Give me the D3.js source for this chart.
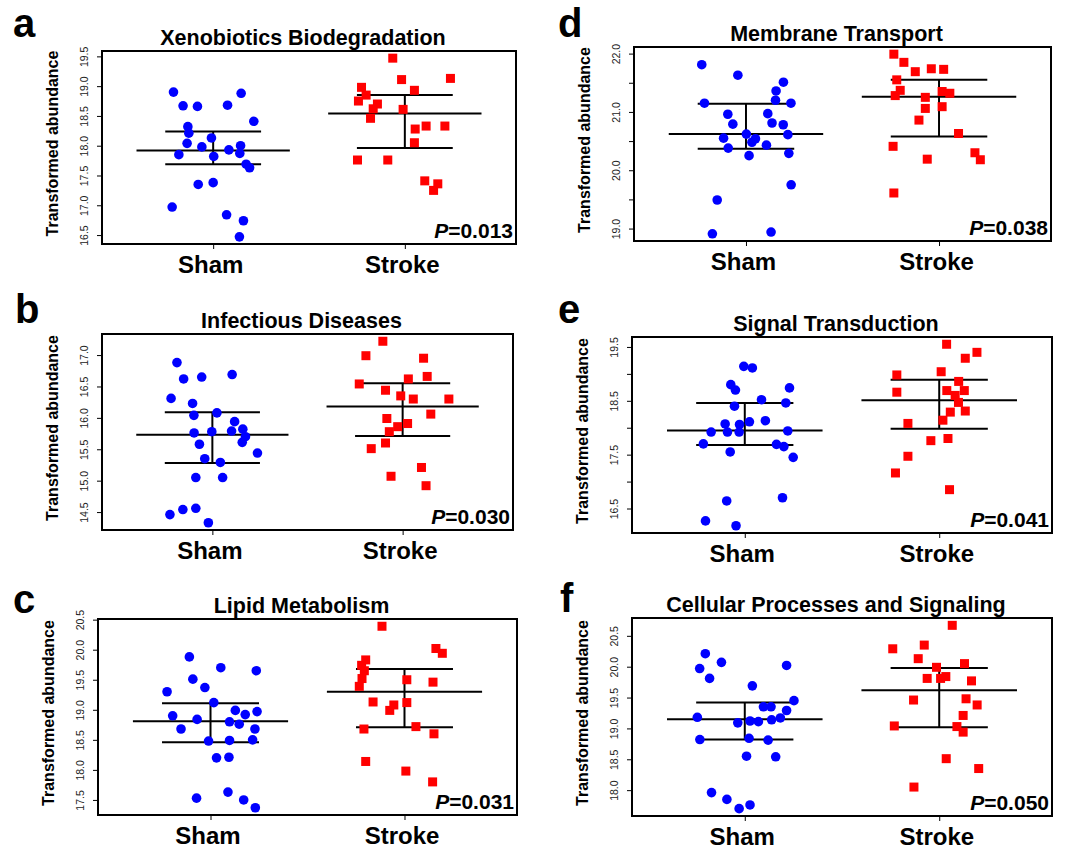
<!DOCTYPE html>
<html>
<head>
<meta charset="utf-8">
<script src="https://cdn.jsdelivr.net/npm/d3@7"></script>
<style>
  body { margin: 0; background: white; }
  svg { display: block; font-family: "Liberation Sans", Arial, sans-serif; }
  .box { fill: none; stroke: black; stroke-width: 2px; }
  .stat { stroke: black; stroke-width: 2px; fill: none; }
  .title { font-size: 21.5px; font-weight: bold; text-anchor: middle; }
  .letter { font-size: 40px; font-weight: bold; }
  .ylab { font-size: 16px; font-weight: bold; text-anchor: middle; }
  .pval { font-size: 21px; font-weight: bold; text-anchor: end; }
  .y.axis text { font-size: 10.5px; fill: #222; }
  .axis path.domain { display: none; }
  .axis line { stroke: black; stroke-width: 1px; }
  .x.axis text { font-size: 24px; font-weight: bold; fill: black; }
</style>
</head>
<body>
<svg id="svg" width="1077" height="850"></svg>
<script>
var categories = ["Sham", "Stroke"];

// a - Xenobiotics Biodegradation
var aShamY = [18.90,18.67,18.66,18.68,18.88,18.32,18.21,18.41,18.13,18.04,17.98,18.00,17.93,17.85,17.82,17.87,17.69,17.63,17.35,17.38,16.97,16.84,16.74,16.47];
var aShamJit = [-0.207,-0.157,-0.082,0.075,0.146,-0.132,-0.127,0.212,-0.009,-0.136,-0.059,0.143,0.082,-0.179,0.003,0.139,0.172,0.19,-0.078,0,-0.214,0.07,0.158,0.137];
var aStrokeY = [19.47,19.13,19.11,18.98,18.93,18.85,18.75,18.70,18.62,18.61,18.46,18.28,18.33,18.33,18.05,17.76,17.76,17.41,17.36,17.25];
var aStrokeJit = [-0.063,0.238,-0.017,-0.226,0.05,-0.202,-0.242,-0.143,-0.165,-0.009,-0.179,0.054,0.111,0.209,0.05,-0.247,-0.089,0.104,0.172,0.15];
var aSummary = [[17.69,17.92,18.24],[17.96,18.54,18.85]];
var aTicks = [16.5,17.0,17.5,18.0,18.5,19.0,19.5];
var aLabels = [16.5,17.0,17.5,18.0,18.5,19.0,19.5];

// b - Infectious Diseases
var bShamY = [16.88,16.62,16.65,16.69,16.31,16.23,16.04,16.08,15.94,15.76,15.78,15.79,15.82,15.70,15.61,15.58,15.44,15.35,15.29,15.05,15.05,14.46,14.54,14.56,14.33];
var bShamJit = [-0.186,-0.151,-0.056,0.104,-0.217,-0.104,-0.097,0.024,0.117,-0.096,-0.003,0.101,0.16,0.174,0.157,-0.068,0.237,-0.04,0.042,-0.087,0.054,-0.223,-0.155,-0.087,-0.021];
var bStrokeY = [17.22,16.99,16.95,16.62,16.66,16.54,16.44,16.35,16.30,16.30,16.06,15.99,15.91,15.86,15.78,15.60,15.51,15.21,15.07,14.92];
var bStrokeJit = [-0.104,-0.193,0.11,0.03,0.129,-0.228,-0.09,-0.01,0.056,0.243,0.148,-0.083,0.026,-0.026,-0.07,-0.09,-0.165,0.099,-0.061,0.123];
var bSummary = [[15.28,15.73,16.09],[15.71,16.18,16.55]];
var bTicks = [14.5,15.0,15.5,16.0,16.5,17.0];
var bLabels = [14.5,15.0,15.5,16.0,16.5,17.0];

// c - Lipid Metabolism
var cShamY = [19.88,19.70,19.65,19.51,19.37,19.30,19.12,18.99,18.97,18.92,18.90,18.84,18.80,18.76,18.68,18.68,18.48,18.49,18.50,18.20,18.21,17.53,17.63,17.50,17.37];
var cShamJit = [-0.109,0.053,0.236,-0.091,-0.029,-0.224,0.017,0.128,0.24,0.179,-0.195,-0.069,0.098,0.148,-0.152,0.229,-0.01,0.098,0.217,0.031,0.095,-0.072,0.09,0.171,0.231];
var cStrokeY = [20.39,20.02,19.94,19.83,19.74,19.65,19.52,19.39,19.50,19.46,19.13,19.08,19.12,18.99,18.68,18.72,18.60,18.14,17.98,17.80];
var cStrokeJit = [-0.116,0.162,0.195,-0.2,-0.221,-0.207,-0.219,-0.233,0.012,0.147,-0.162,-0.055,0.012,-0.076,-0.209,0.059,0.152,-0.2,0.007,0.145];
var cSummary = [[18.46,18.81,19.11],[18.71,19.30,19.68]];
var cTicks = [17.5,18.0,18.5,19.0,19.5,20.0,20.5];
var cLabels = [17.5,18.0,18.5,19.0,19.5,20.0,20.5];

// d - Membrane Transport
var dShamY = [21.81,21.63,21.51,21.36,21.20,21.15,21.15,20.96,20.97,20.79,20.81,20.78,20.62,20.61,20.55,20.54,20.48,20.43,20.38,20.25,20.29,19.75,19.49,18.91,18.94];
var dShamJit = [-0.229,-0.042,0.194,0.156,0.153,-0.215,0.233,-0.094,0.113,-0.068,0.135,0.193,0.002,0.217,-0.116,0.049,0.031,0.106,-0.092,0.016,0.222,0.234,-0.149,-0.174,0.13];
var dStrokeY = [21.99,21.85,21.69,21.74,21.73,21.55,21.37,21.28,21.25,21.35,21.32,21.06,21.09,20.86,20.63,20.41,20.30,20.18,20.19,19.61];
var dStrokeJit = [-0.234,-0.182,-0.123,-0.04,0.024,-0.219,-0.201,-0.227,-0.071,0.016,0.056,-0.071,0.016,-0.104,0.101,-0.238,0.186,0.214,-0.061,-0.234];
var dSummary = [[20.37,20.62,21.14],[20.58,21.26,21.55]];
var dTicks = [19.0,19.5,20.0,20.5,21.0,21.5,22.0];
var dLabels = [19.0,20.0,21.0,22.0];

// e - Signal Transduction
var eShamY = [19.14,19.11,18.80,18.70,18.74,18.52,18.46,18.40,18.11,18.13,18.07,18.06,17.92,17.92,17.92,17.94,17.70,17.69,17.65,17.55,17.45,16.64,16.70,16.27,16.18];
var eShamJit = [-0.005,0.039,-0.072,-0.048,0.23,0.086,0.211,-0.053,0.024,0.106,-0.101,-0.027,-0.173,-0.089,-0.029,0.221,-0.213,0.163,0.201,-0.075,0.249,-0.093,0.194,-0.202,-0.045];
var eStrokeY = [19.55,19.40,19.29,18.98,19.04,18.86,18.66,18.69,18.69,18.60,18.47,18.29,18.31,18.14,18.08,17.76,17.80,17.47,17.16,16.85];
var eStrokeJit = [0.038,0.194,0.134,-0.218,0.01,0.1,-0.218,0.039,0.129,0.082,0.099,0.057,0.134,0.019,-0.161,-0.043,0.045,-0.161,-0.225,0.053];
var eSummary = [[17.68,17.95,18.46],[17.98,18.51,18.89]];
var eTicks = [16.5,17.0,17.5,18.0,18.5,19.0,19.5];
var eLabels = [16.5,17.5,18.5,19.5];

// f - Cellular Processes and Signaling
var fShamY = [20.21,20.07,19.97,20.02,19.81,19.69,19.45,19.35,19.35,19.29,19.18,19.17,19.14,19.12,19.11,19.09,18.82,18.84,18.81,18.55,18.54,17.96,17.85,17.76,17.70];
var fShamJit = [-0.203,-0.12,-0.232,0.215,-0.181,0.039,0.253,0.096,0.135,0.215,-0.244,0.183,0.138,0.027,0.07,-0.036,-0.231,0.022,0.12,0.009,0.159,-0.171,-0.092,0.027,-0.029];
var fStrokeY = [20.67,20.35,20.29,20.13,20.05,19.99,19.81,19.81,19.84,19.77,19.46,19.48,19.38,19.21,19.04,19.03,18.94,18.51,18.35,18.05];
var fStrokeJit = [0.067,-0.077,-0.239,-0.108,0.13,-0.014,-0.062,0.007,0.034,0.166,-0.132,0.138,0.195,0.123,-0.231,0.091,0.123,0.036,0.203,-0.13];
var fSummary = [[18.82,19.15,19.42],[19.02,19.62,19.98]];
var fTicks = [18.0,18.5,19.0,19.5,20.0,20.5];
var fLabels = [18.0,18.5,19.0,19.5,20.0,20.5];

var panels = [
  { letter: "a", title: "Xenobiotics Biodegradation", p: "0.013",
    sham: aShamY, shamJit: aShamJit, stroke: aStrokeY, strokeJit: aStrokeJit,
    summary: aSummary, ticks: aTicks, labels: aLabels,
    box: [102, 51, 516, 244], letterPos: [13, 37] },
  { letter: "b", title: "Infectious Diseases", p: "0.030",
    sham: bShamY, shamJit: bShamJit, stroke: bStrokeY, strokeJit: bStrokeJit,
    summary: bSummary, ticks: bTicks, labels: bLabels,
    box: [102, 334, 513, 530], letterPos: [15, 323] },
  { letter: "c", title: "Lipid Metabolism", p: "0.031",
    sham: cShamY, shamJit: cShamJit, stroke: cStrokeY, strokeJit: cStrokeJit,
    summary: cSummary, ticks: cTicks, labels: cLabels,
    box: [98, 619, 517, 815], letterPos: [13, 613] },
  { letter: "d", title: "Membrane Transport", p: "0.038",
    sham: dShamY, shamJit: dShamJit, stroke: dStrokeY, strokeJit: dStrokeJit,
    summary: dSummary, ticks: dTicks, labels: dLabels,
    box: [634, 47, 1051, 241], letterPos: [558, 37] },
  { letter: "e", title: "Signal Transduction", p: "0.041",
    sham: eShamY, shamJit: eShamJit, stroke: eStrokeY, strokeJit: eStrokeJit,
    summary: eSummary, ticks: eTicks, labels: eLabels,
    box: [632, 337, 1052, 533], letterPos: [558, 323] },
  { letter: "f", title: "Cellular Processes and Signaling", p: "0.050",
    sham: fShamY, shamJit: fShamJit, stroke: fStrokeY, strokeJit: fStrokeJit,
    summary: fSummary, ticks: fTicks, labels: fLabels,
    box: [632, 618, 1052, 816], letterPos: [560, 612] }
];

var svg = d3.select("#svg");
var fmt = d3.format(".1f");

panels.forEach(function(p) {
  var x0 = p.box[0], y0 = p.box[1], x1 = p.box[2], y1 = p.box[3];

  // R style ylim: data range padded by 4%
  var all = p.sham.concat(p.stroke);
  var ext = d3.extent(all);
  var pad = (ext[1] - ext[0]) * 0.04;

  var x = d3.scaleLinear().domain([0.42, 2.58]).range([x0, x1]);
  var y = d3.scaleLinear().domain([ext[0] - pad, ext[1] + pad]).range([y1, y0]);

  var g = svg.append("g");

  g.append("text").attr("class", "letter")
    .attr("x", p.letterPos[0]).attr("y", p.letterPos[1]).text(p.letter);

  g.append("text").attr("class", "title")
    .attr("x", (x0 + x1) / 2 - 6).attr("y", y0 - 6).text(p.title);

  g.append("text").attr("class", "ylab")
    .attr("transform", "translate(" + (x0 - 44) + "," + ((y0 + y1) / 2 - 4) + ") rotate(-90)")
    .text("Transformed abundance");

  var yAxis = d3.axisLeft(y).tickValues(p.ticks).tickSize(5)
    .tickFormat(function(d) { return p.labels.indexOf(d) >= 0 ? fmt(d) : ""; });
  var ya = g.append("g").attr("class", "y axis")
    .attr("transform", "translate(" + x0 + ",0)").call(yAxis);
  ya.selectAll("text")
    .attr("transform", "rotate(-90)")
    .attr("x", 0).attr("y", -14).attr("dy", 0)
    .style("text-anchor", "middle");

  var xAxis = d3.axisBottom(x).tickValues([1, 2]).tickSize(5).tickPadding(7)
    .tickFormat(function(d) { return categories[d - 1]; });
  var xa = g.append("g").attr("class", "x axis")
    .attr("transform", "translate(0," + y1 + ")").call(xAxis);
  xa.selectAll("text").attr("dx", -3);

  // centre line and spread lines
  p.summary.forEach(function(s, i) {
    var c = i + 1;
    g.append("line").attr("class", "stat")
      .attr("x1", x(c - 0.4)).attr("x2", x(c + 0.4))
      .attr("y1", y(s[1])).attr("y2", y(s[1]));
    g.append("line").attr("class", "stat")
      .attr("x1", x(c - 0.25)).attr("x2", x(c + 0.25))
      .attr("y1", y(s[0])).attr("y2", y(s[0]));
    g.append("line").attr("class", "stat")
      .attr("x1", x(c - 0.25)).attr("x2", x(c + 0.25))
      .attr("y1", y(s[2])).attr("y2", y(s[2]));
    g.append("line").attr("class", "stat")
      .attr("x1", x(c)).attr("x2", x(c))
      .attr("y1", y(s[0])).attr("y2", y(s[2]));
  });

  g.selectAll("circle.sham").data(p.sham).enter().append("circle")
    .attr("class", "sham")
    .attr("cx", function(d, i) { return x(1 + p.shamJit[i]); })
    .attr("cy", function(d) { return y(d); })
    .attr("r", 4.8)
    .attr("fill", "#0000ff");

  g.selectAll("rect.stroke").data(p.stroke).enter().append("rect")
    .attr("class", "stroke")
    .attr("x", function(d, i) { return x(2 + p.strokeJit[i]) - 4.5; })
    .attr("y", function(d) { return y(d) - 4.5; })
    .attr("width", 9).attr("height", 9)
    .attr("fill", "#ff0000");

  g.append("rect").attr("class", "box")
    .attr("x", x0).attr("y", y0).attr("width", x1 - x0).attr("height", y1 - y0);

  var pt = g.append("text").attr("class", "pval")
    .attr("x", x1 - 3).attr("y", y1 - 6);
  pt.append("tspan").style("font-style", "italic").text("P");
  pt.append("tspan").text("=" + p.p);
});
</script>
</body>
</html>
